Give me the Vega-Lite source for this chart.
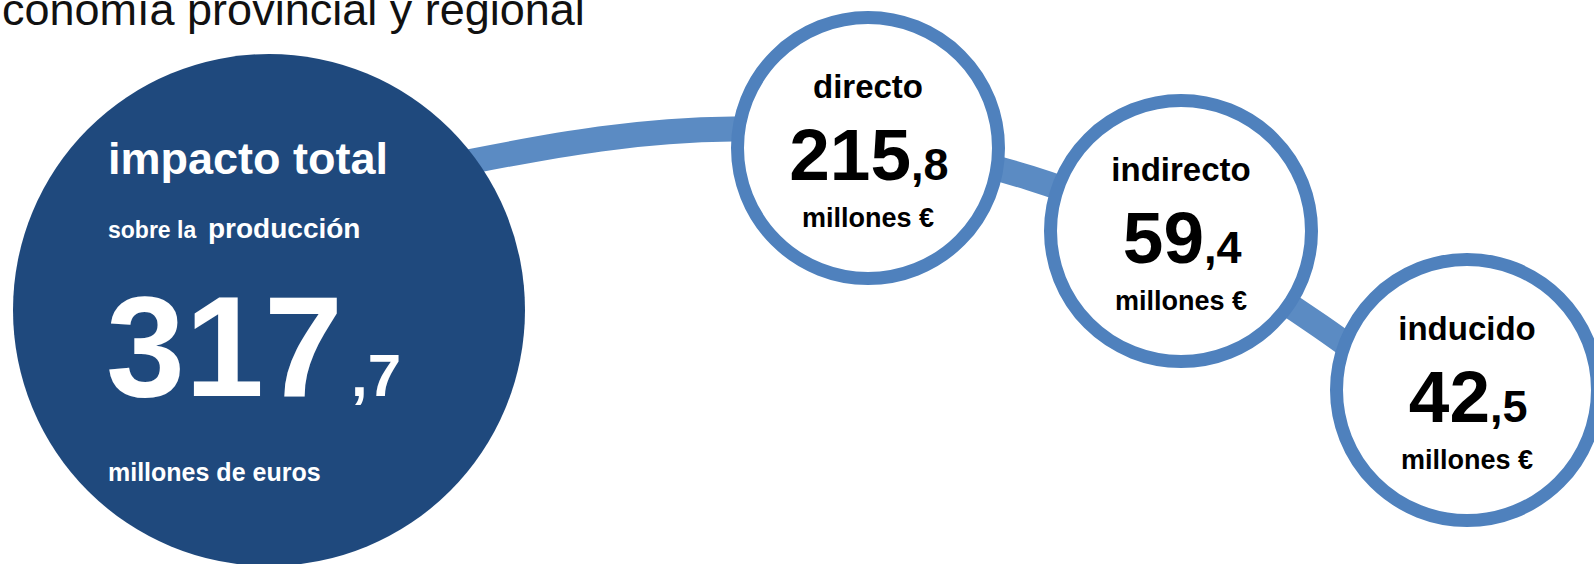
{
  "$schema": "https://vega.github.io/schema/vega-lite/v6.json",
  "width": 1594,
  "height": 564,
  "autosize": "none",
  "padding": 0,
  "background": "white",
  "config": {"view": {"stroke": null}},
  "datasets": {
    "titulo": [{"x": 0, "y": 25, "texto": "conomía provincial y regional"}],
    "curva": [
      {"orden": 1, "x": 400, "y": 176},
      {"orden": 2, "x": 473, "y": 161},
      {"orden": 3, "x": 600, "y": 139},
      {"orden": 4, "x": 733, "y": 129},
      {"orden": 5, "x": 870, "y": 140},
      {"orden": 6, "x": 1030, "y": 178},
      {"orden": 7, "x": 1180, "y": 240},
      {"orden": 8, "x": 1320, "y": 326},
      {"orden": 9, "x": 1420, "y": 400}
    ],
    "total": [
      {"x": 269, "y": 310, "titulo": "impacto total", "sub1": "sobre la", "sub2": "producción", "entero": "317", "decimal": ",7", "unidad": "millones de euros"}
    ],
    "efectos": [
      {"x": 868, "y": 148, "tipo": "directo", "entero": "215", "decimal": ",8", "unidad": "millones €"},
      {"x": 1181, "y": 231, "tipo": "indirecto", "entero": "59", "decimal": ",4", "unidad": "millones €"},
      {"x": 1467, "y": 390, "tipo": "inducido", "entero": "42", "decimal": ",5", "unidad": "millones €"}
    ]
  },
  "encoding": {
    "x": {"field": "x", "type": "quantitative", "scale": {"domain": [0, 1594], "nice": false, "zero": false}, "axis": null},
    "y": {"field": "y", "type": "quantitative", "scale": {"domain": [0, 564], "nice": false, "zero": false, "reverse": true}, "axis": null}
  },
  "layer": [
    {
      "data": {"name": "titulo"},
      "mark": {"type": "text", "align": "left", "baseline": "alphabetic", "font": "Liberation Sans", "fontSize": 45, "dx": 2, "color": "#111111"},
      "encoding": {"text": {"field": "texto"}}
    },
    {
      "data": {"name": "curva"},
      "mark": {"type": "line", "interpolate": "natural", "strokeWidth": 25, "strokeCap": "butt", "color": "#5b8bc3"},
      "encoding": {"order": {"field": "orden", "type": "quantitative"}}
    },
    {
      "data": {"name": "efectos"},
      "mark": {"type": "point", "shape": "circle", "size": 68121, "fill": "#ffffff", "fillOpacity": 1, "stroke": "#4f81bd", "strokeWidth": 13, "opacity": 1},
      "encoding": {}
    },
    {
      "data": {"name": "total"},
      "mark": {"type": "point", "shape": "circle", "size": 262144, "filled": true, "color": "#1f497d", "opacity": 1},
      "encoding": {}
    },
    {
      "data": {"name": "efectos"},
      "mark": {"type": "text", "align": "center", "baseline": "alphabetic", "font": "Liberation Sans", "fontWeight": "bold", "fontSize": 33, "dy": -50, "color": "#000000"},
      "encoding": {"text": {"field": "tipo"}}
    },
    {
      "data": {"name": "efectos"},
      "mark": {"type": "text", "align": "right", "baseline": "alphabetic", "font": "Liberation Sans", "fontWeight": "bold", "fontSize": 73, "dy": 32, "dx": {"expr": "length(datum.entero) * 20 - 17"}, "color": "#000000"},
      "encoding": {"text": {"field": "entero"}}
    },
    {
      "data": {"name": "efectos"},
      "mark": {"type": "text", "align": "left", "baseline": "alphabetic", "font": "Liberation Sans", "fontWeight": "bold", "fontSize": 45, "dy": 32, "dx": {"expr": "length(datum.entero) * 20 - 17"}, "color": "#000000"},
      "encoding": {"text": {"field": "decimal"}}
    },
    {
      "data": {"name": "efectos"},
      "mark": {"type": "text", "align": "center", "baseline": "alphabetic", "font": "Liberation Sans", "fontWeight": "bold", "fontSize": 27, "dy": 79, "color": "#000000"},
      "encoding": {"text": {"field": "unidad"}}
    },
    {
      "data": {"name": "total"},
      "mark": {"type": "text", "align": "left", "baseline": "alphabetic", "font": "Liberation Sans", "fontWeight": "bold", "fontSize": 45, "dx": -161, "dy": -136, "color": "#ffffff"},
      "encoding": {"text": {"field": "titulo"}}
    },
    {
      "data": {"name": "total"},
      "mark": {"type": "text", "align": "left", "baseline": "alphabetic", "font": "Liberation Sans", "fontWeight": "bold", "fontSize": 23, "dx": -161, "dy": -72, "color": "#ffffff"},
      "encoding": {"text": {"field": "sub1"}}
    },
    {
      "data": {"name": "total"},
      "mark": {"type": "text", "align": "left", "baseline": "alphabetic", "font": "Liberation Sans", "fontWeight": "bold", "fontSize": 28, "dx": -61, "dy": -72, "color": "#ffffff"},
      "encoding": {"text": {"field": "sub2"}}
    },
    {
      "data": {"name": "total"},
      "mark": {"type": "text", "align": "left", "baseline": "alphabetic", "font": "Liberation Sans", "fontWeight": "bold", "fontSize": 142, "dx": -163, "dy": 86, "color": "#ffffff"},
      "encoding": {"text": {"field": "entero"}}
    },
    {
      "data": {"name": "total"},
      "mark": {"type": "text", "align": "left", "baseline": "alphabetic", "font": "Liberation Sans", "fontWeight": "bold", "fontSize": 60, "dx": 82, "dy": 86, "color": "#ffffff"},
      "encoding": {"text": {"field": "decimal"}}
    },
    {
      "data": {"name": "total"},
      "mark": {"type": "text", "align": "left", "baseline": "alphabetic", "font": "Liberation Sans", "fontWeight": "bold", "fontSize": 25, "dx": -161, "dy": 171, "color": "#ffffff"},
      "encoding": {"text": {"field": "unidad"}}
    }
  ]
}
